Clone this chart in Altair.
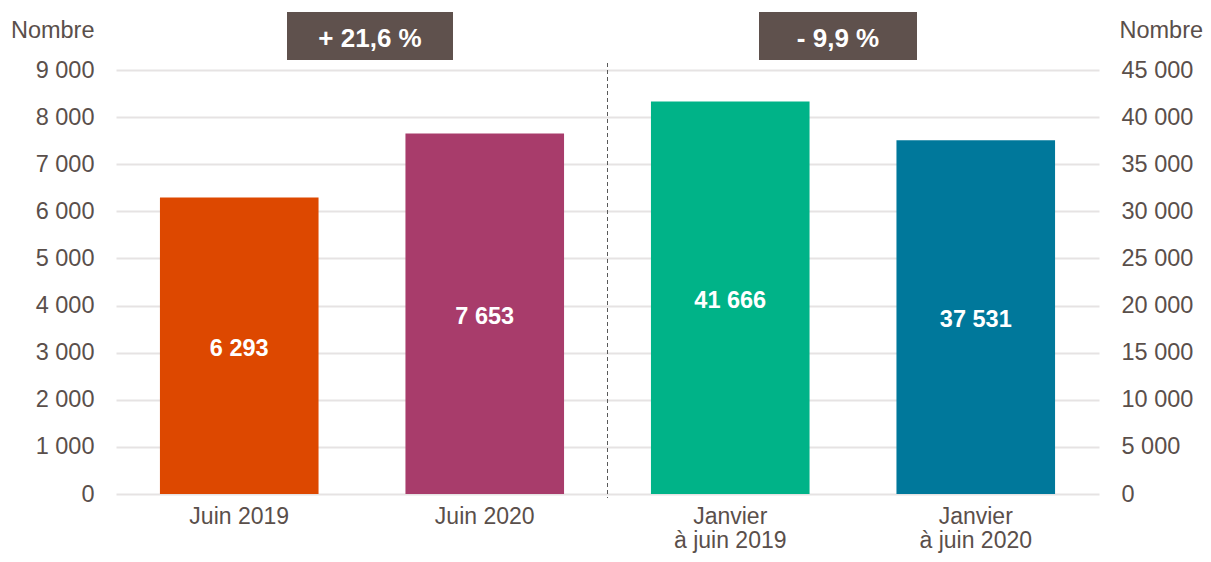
import altair as alt
import pandas as pd

categories = ["Juin 2019", "Juin 2020", "Janvier\nà juin 2019", "Janvier\nà juin 2020"]
values = [6293, 7653, 41666, 37531]
sides = ["L", "L", "R", "R"]
bar_colors = ["#dd4800", "#a83c6b", "#00b388", "#00789b"]
changes = ["+ 21,6 %", "- 9,9 %"]
left_ticks = [0, 1000, 2000, 3000, 4000, 5000, 6000, 7000, 8000, 9000]
right_ticks = [0, 5000, 10000, 15000, 20000, 25000, 30000, 35000, 40000, 45000]

FONT = "Liberation Sans"
TXT = "#5a4f4b"
BOX = "#5f514d"
FS = 23.5

df = pd.DataFrame({
    "cat": categories,
    "value": values,
    "side": sides,
    "label": [f"{v:,}".replace(",", " ") for v in values],
})

xscale = alt.Scale(domain=categories, paddingInner=0.354, paddingOuter=0.179)
color = alt.Color("cat:N", scale=alt.Scale(domain=categories, range=bar_colors), legend=None)
fmt = "replace(format(datum.value, ','), ',', ' ')"

x_axis = alt.Axis(
    title=None, labelExpr="split(datum.label, '\\n')", labelAngle=0,
    labelFont=FONT, labelFontSize=23, labelColor=TXT, labelPadding=11,
    labelLineHeight=24, domain=False, ticks=False, grid=False,
)
left_axis = alt.Axis(values=left_ticks, labelExpr=fmt, title="Nombre", titleAngle=0,
                     titleAlign="right", titleX=-22, titleY=-33, titleBaseline="alphabetic",
                     titleFont=FONT, titleFontSize=FS, titleFontWeight="normal", titleColor=TXT,
                     labelFont=FONT, labelFontSize=FS, labelColor=TXT, labelPadding=22,
                     domain=False, ticks=False, grid=True, gridColor="#e6e3e3", gridWidth=2)
right_axis = alt.Axis(orient="right", values=right_ticks, labelExpr=fmt, title="Nombre", titleAngle=0,
                      titleAlign="left", titleX=20, titleY=-33, titleBaseline="alphabetic",
                      titleFont=FONT, titleFontSize=FS, titleFontWeight="normal", titleColor=TXT,
                      labelFont=FONT, labelFontSize=FS, labelColor=TXT, labelPadding=22,
                      domain=False, ticks=False, grid=False)

def x_enc():
    return alt.X("cat:N", sort=categories, scale=xscale, axis=x_axis)

base = alt.Chart(df)

def group(side, domain, axis):
    sub = base.transform_filter(f"datum.side == '{side}'")
    bars = sub.mark_bar().encode(
        x=x_enc(),
        y=alt.Y("value:Q", scale=alt.Scale(domain=domain), axis=axis),
        color=color,
    )
    text = sub.transform_calculate(half="datum.value / 2").mark_text(
        font=FONT, fontSize=FS, fontWeight="bold", color="white", baseline="middle", dy=3).encode(
        x=x_enc(),
        y=alt.Y("half:Q", scale=alt.Scale(domain=domain), axis=axis),
        text="label:N")
    return alt.layer(bars, text)

one = alt.Chart(pd.DataFrame({"k": [0]}))
divider = one.mark_rule(color="#595959", strokeDash=[4, 3], strokeWidth=1).encode(
    x=alt.value(491.5), y=alt.value(-7), y2=alt.value(428))

def badge(text, x0, x1):
    box = alt.Chart(pd.DataFrame({"t": [text]})).mark_rect(color=BOX).encode(
        x=alt.value(x0), x2=alt.value(x1), y=alt.value(-58), y2=alt.value(-10))
    lab = alt.Chart(pd.DataFrame({"t": [text]})).mark_text(
        font=FONT, fontSize=26, fontWeight="bold", color="white", baseline="middle", align="center").encode(
        x=alt.value((x0 + x1) / 2), y=alt.value(-31.5), text="t:N")
    return box + lab

chart = alt.layer(
    group("L", [0, 9000], left_axis),
    group("R", [0, 45000], right_axis),
    divider,
    badge(changes[0], 171, 337),
    badge(changes[1], 643, 801),
).resolve_scale(y="independent", color="shared").properties(
    width=983, height=424,
    autosize=alt.AutoSizeParams(type="none"),
    padding={"left": 108, "top": 62, "right": 104, "bottom": 60},
    background="white",
).configure_view(stroke=None)

chart.save("out.html", embed_options={"renderer": "svg", "actions": False})
